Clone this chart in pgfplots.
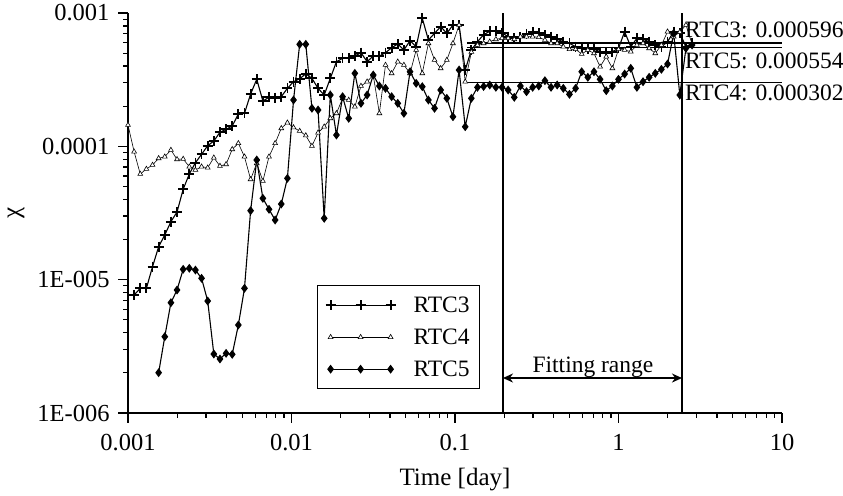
\documentclass[border=0pt]{standalone}
\usepackage{fontspec}
\setmainfont{Liberation Serif}
\usepackage{pgfplots}
\pgfplotsset{compat=1.18}
\usetikzlibrary{arrows.meta}
\newcommand{\ff}{\fontsize{23.5bp}{28bp}\selectfont}
\newcommand{\ft}{\fontsize{24.5bp}{29bp}\selectfont}
\newcommand{\fl}{\fontsize{25bp}{30bp}\selectfont}
\begin{document}
\begin{tikzpicture}
\begin{axis}[name=ax, scale only axis, width=654bp, height=400bp,
 xmode=log, ymode=log, xmin=0.001, xmax=10, ymin=1e-6, ymax=1e-3,
 axis x line*=bottom, axis y line*=left,
 axis line style={-, line width=1.6bp},
 every outer x axis line/.append style={-},
 every outer y axis line/.append style={-},
 xtick={0.001,0.01,0.1,1,10}, xticklabels={0.001,0.01,0.1,1,10},
 ytick={1e-6,1e-5,1e-4,1e-3}, yticklabels={1E-006,1E-005,0.0001,0.001},
 tick align=outside, major tick length=10bp, minor tick length=5bp,
 tick style={black, line width=1.2bp},
 /pgf/number format/assume math mode=true,
 ticklabel style={font=\ft},
 xticklabel style={yshift=-8bp},
 yticklabel style={xshift=-5bp},
 xlabel={Time [day]}, ylabel={χ},
 label style={font=\fl},
 xlabel style={at={(axis description cs:0.5,-0.1675)}, anchor=center},
 ylabel style={at={(axis description cs:-0.171,0.5)}, anchor=center},
 clip=false,
 legend style={at={(rel axis cs:0.289,0.32)}, anchor=north west, draw=black, line width=1.2bp,
   font=\ff, inner xsep=8bp, inner ysep=9bp, row sep=11bp, cells={anchor=west},
   /tikz/every odd column/.append style={column sep=16bp}},
 legend image code/.code={\draw[#1] plot coordinates {(0bp,0bp) (30bp,0bp) (60bp,0bp)};},
]
\addplot[black, line width=1.1bp, mark=+, mark size=5bp, mark options={line width=1.8bp}] coordinates {
(0.0010902,7.674e-6) (0.0011885,8.614e-6) (0.0012957,8.61e-6) (0.0014125,1.251e-5) (0.0015399,1.767e-5)
(0.0016788,2.163e-5) (0.0018302,2.721e-5) (0.0019953,3.218e-5) (0.0021752,4.761e-5) (0.0023714,6.202e-5)
(0.0025852,7.537e-5) (0.0028184,8.713e-5) (0.0030726,1.011e-4) (0.0033497,1.096e-4) (0.0036517,1.274e-4)
(0.0039811,1.342e-4) (0.0043401,1.421e-4) (0.0047315,1.748e-4) (0.0051582,1.769e-4) (0.0056234,2.469e-4)
(0.0061306,3.183e-4) (0.0066834,2.188e-4) (0.0072862,2.332e-4) (0.0079433,2.316e-4) (0.0086596,2.357e-4)
(0.0094406,2.723e-4) (0.010292,3.053e-4) (0.011220,3.21e-4) (0.012232,3.504e-4) (0.013335,3.237e-4)
(0.014538,2.723e-4) (0.015849,2.427e-4) (0.017278,3.237e-4) (0.018836,4.311e-4) (0.020535,4.573e-4)
(0.022387,4.573e-4) (0.024406,4.759e-4) (0.026607,5.038e-4) (0.029007,4.311e-4) (0.031623,4.759e-4)
(0.034474,4.759e-4) (0.037584,5.038e-4) (0.040973,5.491e-4) (0.044668,5.855e-4) (0.048697,5.278e-4)
(0.053088,6.198e-4) (0.057876,5.587e-4) (0.063096,9.125e-4) (0.068786,6.273e-4) (0.074989,7.04e-4)
(0.081752,7.90e-4) (0.089125,7.04e-4) (0.097163,8.128e-4) (0.10592,8.128e-4) (0.11548,3.736e-4)
(0.12589,5.278e-4) (0.13725,6.092e-4) (0.14962,6.874e-4) (0.16312,7.292e-4) (0.17783,7.292e-4)
(0.19386,7.102e-4) (0.21135,6.643e-4) (0.23041,6.462e-4) (0.25119,6.575e-4) (0.27384,6.96e-4)
(0.29854,7.164e-4) (0.32546,7.04e-4) (0.35481,6.839e-4) (0.38681,6.643e-4) (0.42170,6.35e-4)
(0.45973,6.092e-4) (0.50119,5.926e-4) (0.54639,5.587e-4) (0.59566,5.436e-4) (0.64938,5.343e-4)
(0.70795,5.343e-4) (0.77179,5.126e-4) (0.84140,5.038e-4) (0.91727,5.126e-4) (1.0,5.436e-4)
(1.0902,7.243e-4) (1.1885,5.587e-4) (1.2957,6.462e-4) (1.4125,6.35e-4) (1.5399,6.092e-4)
(1.6788,5.754e-4) (1.8302,5.587e-4) (1.9953,6.092e-4) (2.1752,7.243e-4) (2.3714,7.079e-4)
(2.5852,5.587e-4) (2.8184,5.926e-4)
};
\addlegendentry{RTC3}
\addplot[black, line width=0.6bp, mark=triangle*, mark size=2.8bp, mark options={fill=white, line width=0.6bp}] coordinates {
(0.001,1.445e-4) (0.0010902,9.115e-5) (0.0011885,6.202e-5) (0.0012957,6.761e-5) (0.0014125,7.244e-5)
(0.0015399,8.133e-5) (0.0016788,8.36e-5) (0.0018302,9.386e-5) (0.0019953,7.994e-5) (0.0021752,8.035e-5)
(0.0023714,7.034e-5) (0.0025852,6.646e-5) (0.0028184,7.034e-5) (0.0030726,6.914e-5) (0.0033497,8.218e-5)
(0.0036517,7.12e-5) (0.0039811,7.332e-5) (0.0043401,9.5e-5) (0.0047315,1.054e-4) (0.0051582,8.36e-5)
(0.0056234,5.657e-5) (0.0061306,7.46e-5) (0.0066834,5.495e-5) (0.0072862,8.36e-5) (0.0079433,1.054e-4)
(0.0086596,1.365e-4) (0.0094406,1.503e-4) (0.010292,1.384e-4) (0.011220,1.303e-4) (0.012232,1.206e-4)
(0.013335,1.006e-4) (0.014538,1.265e-4) (0.015849,1.403e-4) (0.017278,1.622e-4) (0.018836,1.769e-4)
(0.020535,2.292e-4) (0.022387,2.226e-4) (0.024406,1.983e-4) (0.026607,2.835e-4) (0.029007,3.053e-4)
(0.031623,3.428e-4) (0.034474,1.769e-4) (0.037584,4.074e-4) (0.040973,3.529e-4) (0.044668,4.311e-4)
(0.048697,4.074e-4) (0.053088,3.529e-4) (0.057876,5.278e-4) (0.063096,3.529e-4) (0.068786,5.926e-4)
(0.074989,4.44e-4) (0.081752,3.848e-4) (0.089125,4.44e-4) (0.097163,5.926e-4) (0.10592,8.128e-4)
(0.11548,3.053e-4) (0.12589,5.1e-4) (0.13725,5.754e-4) (0.14962,5.926e-4) (0.16312,6.092e-4)
(0.17783,6.35e-4) (0.19386,6.462e-4) (0.21135,6.462e-4) (0.23041,6.35e-4) (0.25119,6.643e-4)
(0.27384,6.643e-4) (0.29854,6.643e-4) (0.32546,6.575e-4) (0.35481,6.273e-4) (0.38681,5.926e-4)
(0.42170,5.926e-4) (0.45973,5.587e-4) (0.50119,5.343e-4) (0.54639,5.343e-4) (0.59566,4.926e-4)
(0.64938,5.278e-4) (0.70795,4.986e-4) (0.77179,3.956e-4) (0.84140,4.702e-4) (0.91727,3.848e-4)
(1.0,5.343e-4) (1.0902,5.278e-4) (1.1885,5.126e-4) (1.2957,5.754e-4) (1.4125,5.926e-4)
(1.5399,5.436e-4) (1.6788,4.986e-4) (1.8302,5.754e-4) (1.9953,7.243e-4) (2.1752,6.643e-4)
(2.3714,7.2e-4) (2.5852,8.128e-4) (2.8184,5.855e-4)
};
\addlegendentry{RTC4}
\addplot[black, line width=1.1bp, mark=diamond*, mark size=3.6bp] coordinates {
(0.0015399,2.006e-6) (0.0016788,3.735e-6) (0.0018302,6.718e-6) (0.0019953,8.365e-6) (0.0021752,1.196e-5)
(0.0023714,1.217e-5) (0.0025852,1.181e-5) (0.0028184,1.024e-5) (0.0030726,6.918e-6) (0.0033497,2.77e-6)
(0.0036517,2.541e-6) (0.0039811,2.803e-6) (0.0043401,2.754e-6) (0.0047315,4.571e-6) (0.0051582,8.614e-6)
(0.0056234,3.291e-5) (0.0061306,7.898e-5) (0.0066834,4.075e-5) (0.0072862,3.371e-5) (0.0079433,2.802e-5)
(0.0086596,3.693e-5) (0.0094406,5.755e-5) (0.010292,2.226e-4) (0.011220,5.825e-4) (0.012232,5.825e-4)
(0.013335,1.929e-4) (0.014538,1.873e-4) (0.015849,2.885e-5) (0.017278,2.427e-4) (0.018836,1.216e-4)
(0.020535,2.357e-4) (0.022387,1.622e-4) (0.024406,3.529e-4) (0.026607,2.102e-4) (0.029007,2.427e-4)
(0.031623,3.428e-4) (0.034474,2.835e-4) (0.037584,2.723e-4) (0.040973,2.357e-4) (0.044668,2.102e-4)
(0.048697,1.769e-4) (0.053088,3.628e-4) (0.057876,2.97e-4) (0.063096,2.801e-4) (0.068786,2.226e-4)
(0.074989,1.929e-4) (0.081752,2.646e-4) (0.089125,2.292e-4) (0.097163,1.668e-4) (0.10592,3.736e-4)
(0.11548,1.403e-4) (0.12589,2.292e-4) (0.13725,2.772e-4) (0.14962,2.811e-4) (0.16312,2.884e-4)
(0.17783,2.772e-4) (0.19386,2.772e-4) (0.21135,2.646e-4) (0.23041,2.332e-4) (0.25119,2.835e-4)
(0.27384,2.569e-4) (0.29854,2.772e-4) (0.32546,2.835e-4) (0.35481,3.107e-4) (0.38681,2.772e-4)
(0.42170,2.884e-4) (0.45973,2.723e-4) (0.50119,2.456e-4) (0.54639,2.723e-4) (0.59566,3.628e-4)
(0.64938,3.295e-4) (0.70795,3.628e-4) (0.77179,3.183e-4) (0.84140,2.614e-4) (0.91727,2.835e-4)
(1.0,3.183e-4) (1.0902,3.487e-4) (1.1885,3.848e-4) (1.2957,2.772e-4) (1.4125,3.053e-4)
(1.5399,3.295e-4) (1.6788,3.529e-4) (1.8302,3.781e-4) (1.9953,4.145e-4) (2.1752,7.04e-4)
(2.3714,2.427e-4) (2.5852,5.436e-4) (2.8184,5.754e-4)
};
\addlegendentry{RTC5}
% fitted levels
\addplot[black, line width=1.2bp, forget plot] coordinates {(0.118,0.000596) (10,0.000596)};
\addplot[black, line width=1.2bp, forget plot] coordinates {(0.118,0.000554) (10,0.000554)};
\addplot[black, line width=1.2bp, forget plot] coordinates {(0.118,0.000302) (10,0.000302)};
% fitting range boundaries
\addplot[black, line width=1.3bp, forget plot] coordinates {(0.1966,1e-6) (0.1966,1e-3)};
\addplot[black, line width=1.3bp, forget plot] coordinates {(2.445,1e-6) (2.445,1e-3)};
\draw[{Stealth[length=10bp,width=9bp]}-{Stealth[length=10bp,width=9bp]}, line width=1.5bp]
  (axis cs:0.1966,1.83e-6) -- (axis cs:2.445,1.83e-6);
\node[font=\ff, anchor=base, inner sep=0pt] at (axis cs:0.698,2.03e-6) {Fitting range};
\node[font=\ff, anchor=base west, inner sep=0pt] at (axis cs:2.551,6.607e-4) {RTC3: 0.000596};
\node[font=\ff, anchor=base west, inner sep=0pt] at (axis cs:2.551,3.847e-4) {RTC5: 0.000554};
\node[font=\ff, anchor=base west, inner sep=0pt] at (axis cs:2.551,2.226e-4) {RTC4: 0.000302};
\end{axis}
\pgfresetboundingbox
\path[use as bounding box] ([shift={(-128bp,-83bp)}]ax.south west) rectangle ([shift={(61bp,13bp)}]ax.north east);
\end{tikzpicture}
\end{document}
